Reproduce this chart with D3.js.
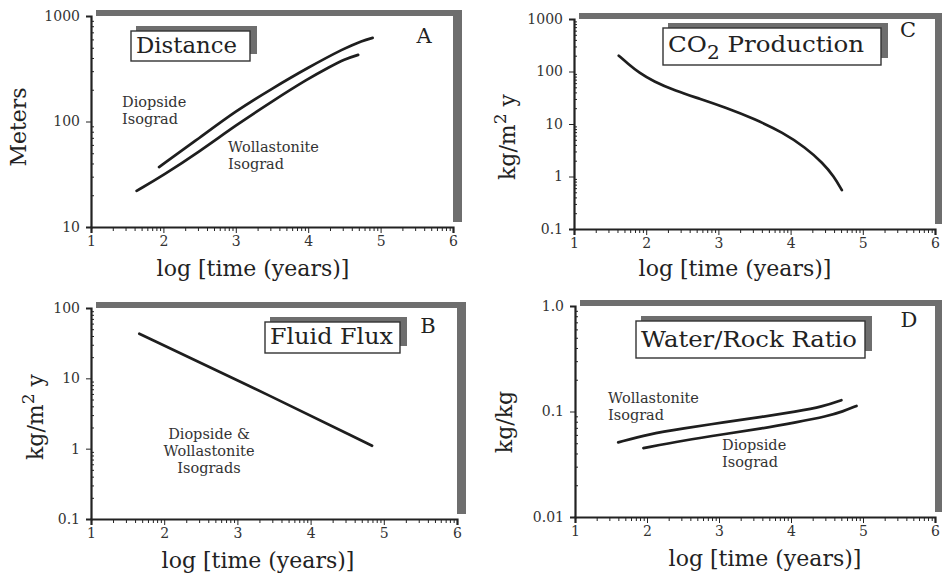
<!DOCTYPE html>
<html>
<head>
<meta charset="utf-8">
<script src="https://cdn.jsdelivr.net/npm/d3@7"></script>
<style>
  body { margin: 0; background: #fff; }
  svg { display: block; font-family: "DejaVu Serif", serif; fill: #222; }
  .curve { fill: none; stroke: #1e1e1e; stroke-width: 2.7; stroke-linecap: round; }
  .axis path, .axis line { stroke: #222; }
  .axis text { font-family: "DejaVu Serif", serif; font-size: 14px; fill: #333; }
</style>
</head>
<body>
<div id="chart"></div>
<script>
// x values are log10(time in years), y values in panel units
const xTickLabels = ["1", "2", "3", "4", "5", "6"];

const distDiopside = [[1.94, 37], [2.5, 70], [3, 126], [3.5, 205], [4, 325], [4.5, 495], [4.75, 585], [4.89, 620]];
const distWollastonite = [[1.63, 22], [2, 31], [2.5, 52], [3, 92], [3.5, 155], [4, 255], [4.3, 330], [4.5, 390], [4.69, 428]];
const distTickLabels = ["10", "100", "1000"];

const co2Production = [[1.62, 200], [1.75, 140], [1.9, 95], [2.1, 65], [2.4, 43], [2.75, 30], [3.1, 20.5], [3.5, 12.5], [3.9, 6.8], [4.2, 3.6], [4.45, 1.8], [4.6, 1.0], [4.71, 0.55]];
const co2TickLabels = ["0.1", "1", "10", "100", "1000"];

const fluidFlux = [[1.66, 43], [3, 9.5], [4.84, 1.1]];
const fluxTickLabels = ["0.1", "1", "10", "100"];

const wrWollastonite = [[1.6, 0.051], [2.02, 0.061], [2.5, 0.069], [3.07, 0.079], [3.6, 0.089], [4.07, 0.1], [4.44, 0.111], [4.7, 0.128]];
const wrDiopside = [[1.95, 0.045], [2.5, 0.053], [3.07, 0.061], [3.6, 0.069], [4.07, 0.079], [4.5, 0.09], [4.72, 0.1], [4.91, 0.113]];
const wrTickLabels = ["0.01", "0.1", "1.0"];

const svg = d3.select("#chart").append("svg")
    .attr("width", 942)
    .attr("height", 576);

const shade = "#6e6e6e";

// minor ticks for a log axis: 2..9 x each decade
function minorTicks(lo, hi) {
    const out = [];
    for (let e = Math.round(Math.log10(lo)); e < Math.round(Math.log10(hi)); e++) {
        for (let k = 2; k <= 9; k++) out.push(k * Math.pow(10, e));
    }
    return out;
}

function drawPanel(p) {
    const g = svg.append("g");
    const [left, right, top, bottom] = p.frame;

    // frame shadow, then white plot area
    g.append("rect")
        .attr("x", left + 5).attr("y", top - 6)
        .attr("width", right - left + 4).attr("height", bottom - top + 1)
        .attr("fill", shade);
    g.append("rect")
        .attr("x", left).attr("y", top)
        .attr("width", right - left).attr("height", bottom - top)
        .attr("fill", "#fff");

    const x = d3.scaleLog().domain([10, 1e6]).range([left, right]);
    const y = d3.scaleLog().domain(p.yDomain).range([bottom, top]);

    const xMajor = xTickLabels.map(d => Math.pow(10, +d));
    const yMajor = p.yTicks.map(d => +d);

    g.append("g").attr("class", "axis")
        .attr("transform", `translate(0,${bottom})`)
        .call(d3.axisBottom(x).tickValues(minorTicks(10, 1e6)).tickSize(4).tickFormat(""))
        .call(a => a.select(".domain").remove());
    g.append("g").attr("class", "axis")
        .attr("transform", `translate(0,${bottom})`)
        .call(d3.axisBottom(x).tickValues(xMajor).tickSize(6).tickPadding(3)
            .tickFormat((d, i) => xTickLabels[i]))
        .call(a => a.select(".domain").attr("stroke-width", 2.2));

    g.append("g").attr("class", "axis")
        .attr("transform", `translate(${left},0)`)
        .call(d3.axisRight(y).tickValues(minorTicks(p.yDomain[0], p.yDomain[1])).tickSize(3).tickFormat(""))
        .call(a => a.select(".domain").remove());
    g.append("g").attr("class", "axis")
        .attr("transform", `translate(${left},0)`)
        .call(d3.axisLeft(y).tickValues(yMajor).tickSize(5).tickPadding(6)
            .tickFormat((d, i) => p.yTicks[i]))
        .call(a => a.select(".domain").attr("stroke-width", 2.2));

    const line = d3.line()
        .curve(d3.curveBasis)
        .x(d => x(Math.pow(10, d[0])))
        .y(d => y(d[1]));
    p.series.forEach(s => {
        g.append("path").datum(s).attr("class", "curve").attr("d", line);
    });

    // x title
    g.append("text")
        .attr("x", p.xTitle[0]).attr("y", p.xTitle[1])
        .attr("text-anchor", "middle")
        .attr("font-size", 22)
        .text("log [time (years)]");

    // y title, rotated
    const yt = g.append("text")
        .attr("transform", `translate(${p.yTitle[0]},${p.yTitle[1]}) rotate(-90)`)
        .attr("text-anchor", "middle")
        .attr("font-size", 22);
    p.yTitleParts.forEach(t => {
        const ts = yt.append("tspan").text(t.s);
        if (t.sup) ts.attr("font-size", 17).attr("dy", -9);
        if (t.after) ts.attr("dy", 9);
    });

    // title box with shadow
    const [bx0, by0, bx1, by1] = p.box;
    g.append("rect")
        .attr("x", bx0 + 5).attr("y", by0 - 5)
        .attr("width", bx1 - bx0 + 2).attr("height", by1 - by0 - 2)
        .attr("fill", shade);
    g.append("rect")
        .attr("x", bx0).attr("y", by0)
        .attr("width", bx1 - bx0).attr("height", by1 - by0)
        .attr("fill", "#fff").attr("stroke", "#333").attr("stroke-width", 1.4);
    const tt = g.append("text")
        .attr("x", bx0 + 5).attr("y", p.boxBase)
        .attr("font-size", 22)
        .attr("textLength", p.boxLen).attr("lengthAdjust", "spacingAndGlyphs");
    p.boxParts.forEach(t => {
        const ts = tt.append("tspan").text(t.s);
        if (t.sub) ts.attr("font-size", 18).attr("dy", 7);
        if (t.after) ts.attr("dy", -7);
    });

    // panel letter
    g.append("text")
        .attr("x", p.letter[0]).attr("y", p.letter[1])
        .attr("text-anchor", "middle")
        .attr("font-size", 21)
        .text(p.id);

    // annotations
    p.notes.forEach(n => {
        const t = g.append("text")
            .attr("x", n.x).attr("y", n.y)
            .attr("font-size", 14.5)
            .attr("fill", "#333")
            .attr("text-anchor", n.anchor || "start");
        n.lines.forEach((s, i) => {
            t.append("tspan").attr("x", n.x).attr("dy", i ? 17 : 0).text(s);
        });
    });
}

const kgm2y = [{ s: "kg/m" }, { s: "2", sup: true }, { s: " y", after: true }];

const panels = [
    {
        id: "A", frame: [91, 453, 16, 227], yDomain: [10, 1000], yTicks: distTickLabels,
        series: [distDiopside, distWollastonite],
        xTitle: [253, 276], yTitle: [26, 127], yTitleParts: [{ s: "Meters" }],
        box: [131, 31, 250, 61], boxBase: 53, boxLen: 101, boxParts: [{ s: "Distance" }],
        letter: [424, 43],
        notes: [
            { x: 122, y: 107, lines: ["Diopside", "Isograd"] },
            { x: 228, y: 152, lines: ["Wollastonite", "Isograd"] }
        ]
    },
    {
        id: "C", frame: [574, 935, 19, 229], yDomain: [0.1, 1000], yTicks: co2TickLabels,
        series: [co2Production],
        xTitle: [735, 276], yTitle: [515, 137], yTitleParts: kgm2y,
        box: [663, 28, 881, 65], boxBase: 52, boxLen: 196,
        boxParts: [{ s: "CO" }, { s: "2", sub: true }, { s: "  Production", after: true }],
        letter: [908, 37],
        notes: []
    },
    {
        id: "B", frame: [91, 457, 308, 519], yDomain: [0.1, 100], yTicks: fluxTickLabels,
        series: [fluidFlux],
        xTitle: [258, 568], yTitle: [43, 417], yTitleParts: kgm2y,
        box: [265, 322, 400, 353], boxBase: 344, boxLen: 123, boxParts: [{ s: "Fluid Flux" }],
        letter: [428, 333],
        notes: [
            { x: 209, y: 439, anchor: "middle", lines: ["Diopside &", "Wollastonite", "Isograds"] }
        ]
    },
    {
        id: "D", frame: [575, 935, 306, 517], yDomain: [0.01, 1], yTicks: wrTickLabels,
        series: [wrWollastonite, wrDiopside],
        xTitle: [765, 566], yTitle: [512, 422], yTitleParts: [{ s: "kg/kg" }],
        box: [636, 321, 865, 358], boxBase: 347, boxLen: 216, boxParts: [{ s: "Water/Rock Ratio" }],
        letter: [909, 327],
        notes: [
            { x: 608, y: 403, lines: ["Wollastonite", "Isograd"] },
            { x: 722, y: 450, lines: ["Diopside", "Isograd"] }
        ]
    }
];

panels.forEach(drawPanel);
</script>
</body>
</html>
